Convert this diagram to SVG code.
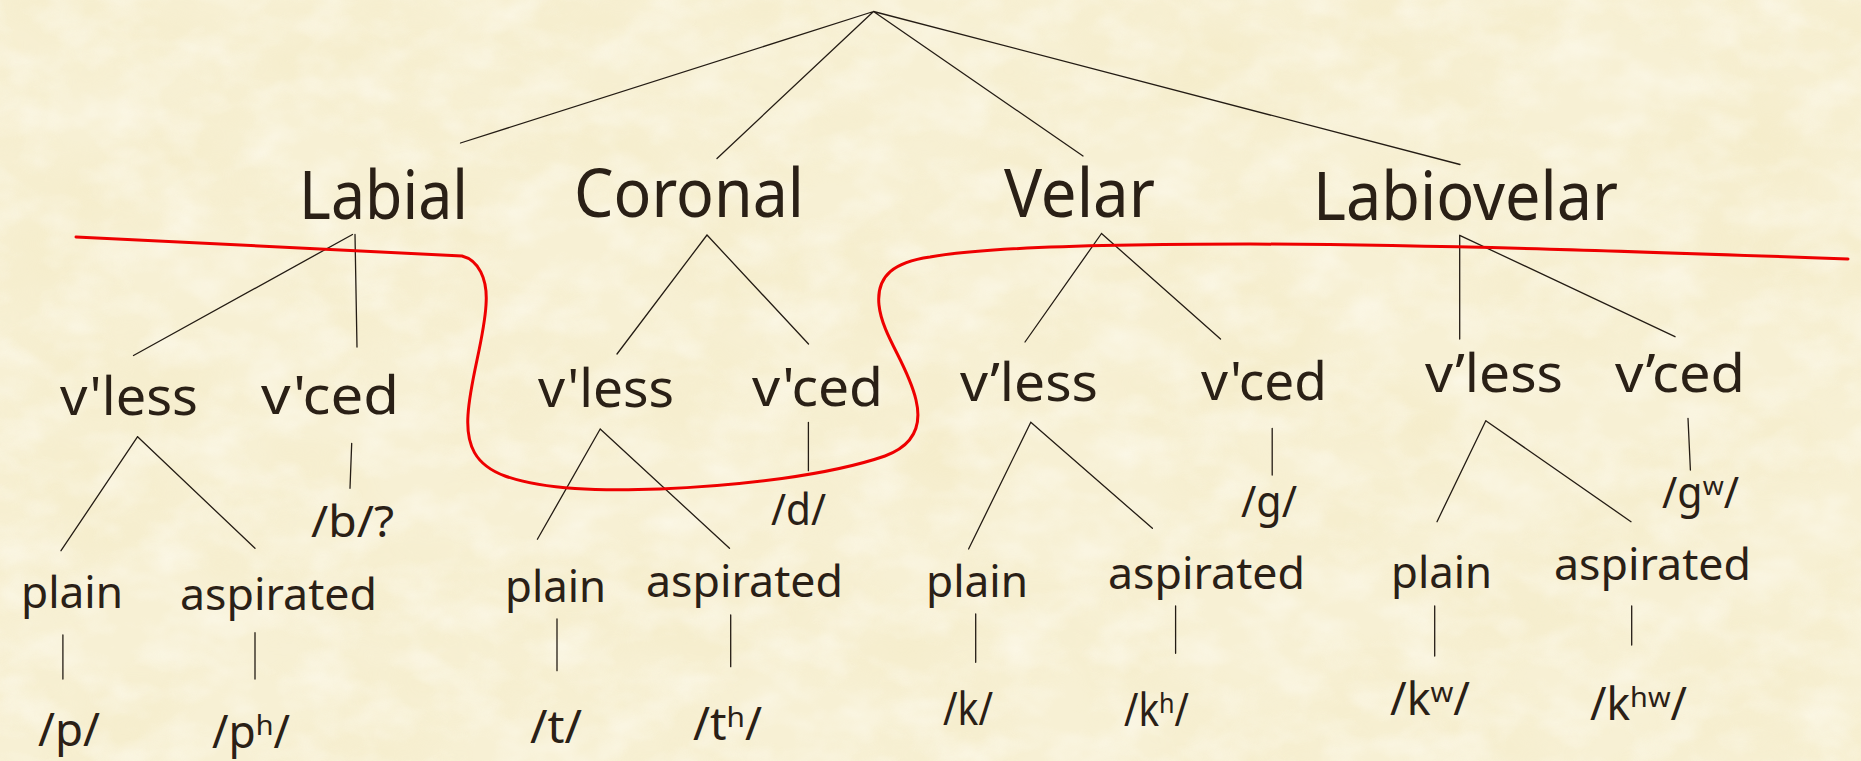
<svg xmlns="http://www.w3.org/2000/svg" width="1861" height="761" viewBox="0 0 1861 761">
<style>
text{font-family:"Noto Sans","Open Sans","DejaVu Sans",sans-serif;fill:#2a2016;}
.l1{font-size:68px;}
.l2{font-size:53px;}
.l3{font-size:44px;}
.l4{font-size:45px;}
.edge{stroke:#241c14;stroke-width:1.3;fill:none;stroke-linecap:round;}
.red{stroke:#ee0000;stroke-width:3;fill:none;stroke-linejoin:round;stroke-linecap:round;}
</style>
<defs>
<filter id="paper" x="0" y="0" width="100%" height="100%" filterUnits="userSpaceOnUse">
<feTurbulence type="fractalNoise" baseFrequency="0.006 0.009" numOctaves="4" seed="7" result="n"/>
<feColorMatrix in="n" type="matrix" values="0 0 0 0 0.88  0 0 0 0 0.79  0 0 0 0 0.48  1.6 0 0 0 -0.62"/>
</filter>
<filter id="paper2" x="0" y="0" width="100%" height="100%" filterUnits="userSpaceOnUse">
<feTurbulence type="fractalNoise" baseFrequency="0.02 0.03" numOctaves="3" seed="2" result="n"/>
<feColorMatrix in="n" type="matrix" values="0 0 0 0 1  0 0 0 0 0.99  0 0 0 0 0.94  0 1.4 0 0 -0.55"/>
</filter>
</defs>
<rect id="background" x="0" y="0" width="1861" height="761" fill="#f7f0d4"/>
<rect x="0" y="0" width="1861" height="761" filter="url(#paper)" opacity="0.4"/>
<rect x="0" y="0" width="1861" height="761" filter="url(#paper2)" opacity="0.65"/>

<g id="connectors">
<path class="edge" d="M873.5 11.5 L460.5 143 M873.5 11.5 L717 158.5 M873.5 11.5 L1083 156 M873.5 11.5 L1460 164.5"/>
<path class="edge" d="M352.5 234.5 L133.5 355.5 M355 234.5 L357 347"/>
<path class="edge" d="M707 235 L617 354 M707 235 L808.5 344"/>
<path class="edge" d="M1101.5 233.5 L1025 342 M1101.5 233.5 L1220.5 339"/>
<path class="edge" d="M1459.7 235.3 L1459.7 339 M1459.7 235.3 L1675 336.7"/>
<path class="edge" d="M137.6 436.7 L61 550.7 M137.6 436.7 L255 548.3 M351.7 443.3 L350 488.3"/>
<path class="edge" d="M600.2 429 L537.4 539.3 M600.2 429 L729.5 548.3 M808.4 422.3 L808.4 470.7"/>
<path class="edge" d="M1030.8 422.3 L968.6 549 M1030.8 422.3 L1152.4 528.3 M1272.2 428.3 L1272.2 475"/>
<path class="edge" d="M1485.8 420.7 L1437 521.7 M1485.8 420.7 L1631 521.7 M1688 418.3 L1690.4 470"/>
<path class="edge" d="M62.9 635 L62.9 679 M255 632.7 L255 679 M557 619 L557 670.7 M730.7 615 L730.7 666.7 M975.7 614 L975.7 662.3 M1175.6 606 L1175.6 653.3 M1434.7 606 L1434.7 656 M1631.7 606 L1631.7 645"/>
</g>

<g id="red-boundary">
<path class="red" d="M76 237 L462 256 C478 260 488 278 486 305 C484 340 470 380 468 415 C466 445 475 465 505 476 C545 490 600 491 660 489 C740 486 830 475 885 456 C915 445 922 425 916 400 C908 365 882 335 879 305 C876 275 895 262 930 257 C980 248 1080 244 1250 244 C1450 245 1650 252 1848 259"/>
</g>

<g id="labial"><text class="l1" x="299" y="219" textLength="169" lengthAdjust="spacingAndGlyphs">Labial</text></g>
<g id="coronal"><text class="l1" x="574" y="217" textLength="230" lengthAdjust="spacingAndGlyphs">Coronal</text></g>
<g id="velar"><text class="l1" x="1004" y="217" textLength="151" lengthAdjust="spacingAndGlyphs">Velar</text></g>
<g id="labiovelar"><text class="l1" x="1313" y="220" textLength="305" lengthAdjust="spacingAndGlyphs">Labiovelar</text></g>

<g id="labial-vless"><text class="l2" x="60" y="415" textLength="138" lengthAdjust="spacingAndGlyphs">v'less</text></g>
<g id="labial-vced"><text class="l2" x="261" y="414" textLength="138" lengthAdjust="spacingAndGlyphs">v'ced</text></g>
<g id="coronal-vless"><text class="l2" x="538" y="407" textLength="136" lengthAdjust="spacingAndGlyphs">v'less</text></g>
<g id="coronal-vced"><text class="l2" x="752" y="406" textLength="131" lengthAdjust="spacingAndGlyphs">v'ced</text></g>
<g id="velar-vless"><text class="l2" x="960" y="401" textLength="138" lengthAdjust="spacingAndGlyphs">v’less</text></g>
<g id="velar-vced"><text class="l2" x="1201" y="400" textLength="126" lengthAdjust="spacingAndGlyphs">v'ced</text></g>
<g id="labiovelar-vless"><text class="l2" x="1425" y="392" textLength="138" lengthAdjust="spacingAndGlyphs">v’less</text></g>
<g id="labiovelar-vced"><text class="l2" x="1615" y="392" textLength="130" lengthAdjust="spacingAndGlyphs">v’ced</text></g>

<g id="labial-b"><text class="l3" x="311" y="537" textLength="83" lengthAdjust="spacingAndGlyphs">/b/?</text></g>
<g id="labial-plain"><text class="l3" x="21" y="608" textLength="102" lengthAdjust="spacingAndGlyphs">plain</text></g>
<g id="labial-aspirated"><text class="l3" x="180" y="610" textLength="197" lengthAdjust="spacingAndGlyphs">aspirated</text></g>
<g id="coronal-d"><text class="l3" x="771" y="525" textLength="55" lengthAdjust="spacingAndGlyphs">/d/</text></g>
<g id="coronal-plain"><text class="l3" x="505" y="602" textLength="101" lengthAdjust="spacingAndGlyphs">plain</text></g>
<g id="coronal-aspirated"><text class="l3" x="646" y="597" textLength="197" lengthAdjust="spacingAndGlyphs">aspirated</text></g>
<g id="velar-g"><text class="l3" x="1241" y="517" textLength="56" lengthAdjust="spacingAndGlyphs">/g/</text></g>
<g id="velar-plain"><text class="l3" x="926" y="597" textLength="102" lengthAdjust="spacingAndGlyphs">plain</text></g>
<g id="velar-aspirated"><text class="l3" x="1108" y="589" textLength="197" lengthAdjust="spacingAndGlyphs">aspirated</text></g>
<g id="labiovelar-gw"><text class="l3" x="1662" y="508" textLength="77" lengthAdjust="spacingAndGlyphs">/gʷ/</text></g>
<g id="labiovelar-plain"><text class="l3" x="1391" y="588" textLength="101" lengthAdjust="spacingAndGlyphs">plain</text></g>
<g id="labiovelar-aspirated"><text class="l3" x="1554" y="580" textLength="197" lengthAdjust="spacingAndGlyphs">aspirated</text></g>

<g id="p"><text class="l4" x="38" y="746" textLength="62" lengthAdjust="spacingAndGlyphs">/p/</text></g>
<g id="ph"><text class="l4" x="212" y="748" textLength="78" lengthAdjust="spacingAndGlyphs">/pʰ/</text></g>
<g id="t"><text class="l4" x="530" y="743" textLength="52" lengthAdjust="spacingAndGlyphs">/t/</text></g>
<g id="th"><text class="l4" x="693" y="740" textLength="69" lengthAdjust="spacingAndGlyphs">/tʰ/</text></g>
<g id="k"><text class="l4" x="943" y="725" textLength="50" lengthAdjust="spacingAndGlyphs">/k/</text></g>
<g id="kh"><text class="l4" x="1124" y="726" textLength="65" lengthAdjust="spacingAndGlyphs">/kʰ/</text></g>
<g id="kw"><text class="l4" x="1390" y="715" textLength="80" lengthAdjust="spacingAndGlyphs">/kʷ/</text></g>
<g id="khw"><text class="l4" x="1590" y="720" textLength="97" lengthAdjust="spacingAndGlyphs">/kʰʷ/</text></g>
</svg>
